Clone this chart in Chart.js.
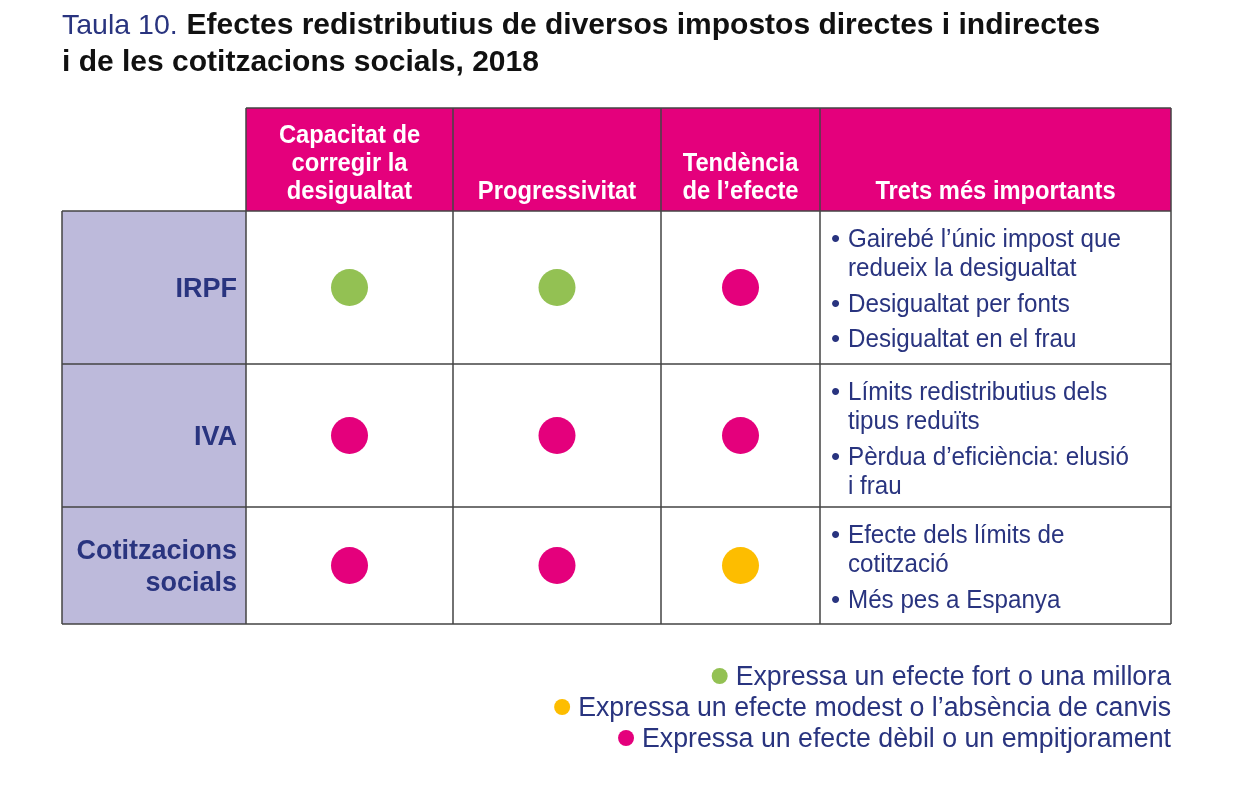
<!DOCTYPE html>
<html>
<head>
<meta charset="utf-8">
<script src="https://cdn.jsdelivr.net/npm/chart.js@4.4.1/dist/chart.umd.min.js"></script>
<style>
  html, body { margin: 0; padding: 0; background: #ffffff; }
  #wrap { width: 1238px; height: 787px; }
  canvas { display: block; }
</style>
</head>
<body>
<div id="wrap"><canvas id="c" width="1238" height="787"></canvas></div>
<script>
// ---------------- DATA ----------------
const titleLabel = 'Taula 10.';
const titleLines = ['Efectes redistributius de diversos impostos directes i indirectes',
                    'i de les cotitzacions socials, 2018'];
const rowLabels = [['IRPF'], ['IVA'], ['Cotitzacions', 'socials']];
const columnHeaders = [['Capacitat de', 'corregir la', 'desigualtat'],
                       ['Progressivitat'],
                       ['Tendència', 'de l\u2019efecte']];
const traitsHeader = ['Trets més importants'];
const traits = [
  [['Gairebé l\u2019únic impost que', 'redueix la desigualtat'], ['Desigualtat per fonts'], ['Desigualtat en el frau']],
  [['Límits redistributius dels', 'tipus reduïts'], ['Pèrdua d\u2019eficiència: elusió', 'i frau']],
  [['Efecte dels límits de', 'cotització'], ['Més pes a Espanya']]
];
// rating per row (IRPF, IVA, Cotitzacions socials) for each indicator column
const capacitat      = ['fort', 'dèbil', 'dèbil'];
const progressivitat = ['fort', 'dèbil', 'dèbil'];
const tendencia      = ['dèbil', 'dèbil', 'modest'];
const levels = ['fort', 'modest', 'dèbil'];
const levelLabels = ['Expressa un efecte fort o una millora',
                     'Expressa un efecte modest o l\u2019absència de canvis',
                     'Expressa un efecte dèbil o un empitjorament'];

// ---------------- STYLE / LAYOUT ----------------
const COL = { magenta: '#e4007c', lavender: '#bdbadb', blue: '#29347f', black: '#111111',
              grid: '#444444', levels: { 'fort': '#93c153', 'modest': '#fdbd00', 'dèbil': '#e4007c' } };
const FONT = '"Liberation Sans", Arial, Helvetica, sans-serif';
const L = {
  tableLeft: 62, labelW: 184, colW: [207, 208, 159], traitsW: 351,
  headerTop: 108, headerH: 103, rowH: [153, 143, 117]
};
const sum = a => a.reduce((s, v) => s + v, 0);
const cum = (a, i) => sum(a.slice(0, i));
const dataLeft = L.tableLeft + L.labelW;
const dataTop = L.headerTop + L.headerH;
const dataW = sum(L.colW);
const dataH = sum(L.rowH);

const columnsData = [capacitat, progressivitat, tendencia];
function pointsFor(level) {
  const pts = [];
  columnsData.forEach((col, ci) => col.forEach((v, ri) => {
    if (v === level) pts.push({ x: cum(L.colW, ci) + L.colW[ci] / 2, y: cum(L.rowH, ri) + L.rowH[ri] / 2 });
  }));
  return pts;
}

function txt(ctx, s, x, y, font, color, align, sx) {
  ctx.save();
  ctx.font = font; ctx.fillStyle = color; ctx.textAlign = align; ctx.textBaseline = 'alphabetic';
  ctx.translate(x, y); ctx.scale(sx || 1, 1);
  ctx.fillText(s, 0, 0);
  ctx.restore();
}
function width(ctx, s, font, sx) { ctx.save(); ctx.font = font; const w = ctx.measureText(s).width * (sx || 1); ctx.restore(); return w; }

const tablePlugin = {
  id: 'tablePlugin',
  beforeDraw(chart) {
    const ctx = chart.ctx;
    ctx.save();
    ctx.fillStyle = '#ffffff';
    ctx.fillRect(0, 0, chart.width, chart.height);
    ctx.restore();
  },
  beforeDatasetsDraw(chart) {
    const ctx = chart.ctx, xs = chart.scales.x, ys = chart.scales.y;
    const xB = [0]; L.colW.forEach((w, i) => xB.push(cum(L.colW, i + 1)));
    const yB = [0]; L.rowH.forEach((h, i) => yB.push(cum(L.rowH, i + 1)));
    const xPix = xB.map(v => xs.getPixelForValue(v));
    const yPix = yB.map(v => ys.getPixelForValue(v));
    const left = xPix[0] - L.labelW, right = xPix[xPix.length - 1] + L.traitsW;
    const top = yPix[0] - L.headerH, bottom = yPix[yPix.length - 1];
    ctx.save();
    // header
    ctx.fillStyle = COL.magenta;
    ctx.fillRect(xPix[0], top, right - xPix[0], yPix[0] - top);
    // label column
    ctx.fillStyle = COL.lavender;
    ctx.fillRect(left, yPix[0], L.labelW, bottom - yPix[0]);
    // grid
    ctx.strokeStyle = COL.grid; ctx.lineWidth = 1.5;
    ctx.beginPath();
    const vx = xPix.concat([right]);
    vx.forEach(x => { ctx.moveTo(x, top); ctx.lineTo(x, bottom); });
    ctx.moveTo(left, yPix[0]); ctx.lineTo(left, bottom);
    ctx.moveTo(xPix[0], top); ctx.lineTo(right, top);
    yPix.forEach(y => { ctx.moveTo(left, y); ctx.lineTo(right, y); });
    ctx.stroke();
    ctx.restore();

    // header text
    const hFont = 'bold 25px ' + FONT, hs = 0.95, hBase = yPix[0] - 12, hLine = 28;
    const headerCells = columnHeaders.concat([traitsHeader]);
    const cellLeft = xPix.slice();
    const cellW = L.colW.concat([L.traitsW]);
    headerCells.forEach((lines, i) => {
      const cx = cellLeft[i] + cellW[i] / 2;
      lines.forEach((s, k) => {
        txt(ctx, s, cx, hBase - (lines.length - 1 - k) * hLine, hFont, '#ffffff', 'center', hs);
      });
    });

    // row labels
    const rFont = 'bold 27px ' + FONT, rLine = 32;
    rowLabels.forEach((lines, ri) => {
      const cy = ys.getPixelForValue(cum(L.rowH, ri) + L.rowH[ri] / 2);
      const n = lines.length;
      lines.forEach((s, k) => {
        const y = cy + (k - (n - 1) / 2) * rLine + 9.5;
        txt(ctx, s, xPix[0] - 9, y, rFont, COL.blue, 'right', 1);
      });
    });

    // traits
    const tFont = '26px ' + FONT, ts = 0.93, tLine = 29, tGap = 35.5;
    const tx = xPix[xPix.length - 1];
    traits.forEach((bullets, ri) => {
      let y = yPix[ri] + 36;
      bullets.forEach((lines, bi) => {
        if (bi > 0) y += tGap - tLine;
        lines.forEach((s, k) => {
          if (k === 0) txt(ctx, '\u2022', tx + 11, y, tFont, COL.blue, 'left', 1);
          txt(ctx, s, tx + 28, y, tFont, COL.blue, 'left', ts);
          y += tLine;
        });
      });
    });
  },
  afterDraw(chart) {
    const ctx = chart.ctx;
    // title
    const tRegular = '28.5px ' + FONT, tBold = 'bold 30px ' + FONT, tsx = 1.0;
    const x0 = L.tableLeft;
    txt(ctx, titleLabel, x0, 34, tRegular, COL.blue, 'left', 1);
    const wLab = width(ctx, titleLabel + ' ', tRegular, 1);
    txt(ctx, titleLines[0], x0 + wLab + 1, 34, tBold, COL.black, 'left', tsx);
    txt(ctx, titleLines[1], x0, 71, tBold, COL.black, 'left', tsx);

    // legend
    const lFont = '27px ' + FONT, ls = 0.99;
    const right = L.tableLeft + L.labelW + sum(L.colW) + L.traitsW;
    chart.data.datasets.forEach((ds, i) => {
      const base = 685 + i * 31;
      const w = width(ctx, ds.label, lFont, ls);
      txt(ctx, ds.label, right, base, lFont, COL.blue, 'right', ls);
      ctx.save();
      ctx.fillStyle = ds.backgroundColor;
      ctx.beginPath();
      ctx.arc(right - w - 16, base - 9, 8, 0, Math.PI * 2);
      ctx.fill();
      ctx.restore();
    });
  }
};

new Chart(document.getElementById('c'), {
  type: 'scatter',
  data: {
    datasets: levels.map((lv, i) => ({
      label: levelLabels[i],
      data: pointsFor(lv),
      backgroundColor: COL.levels[lv],
      borderWidth: 0,
      pointRadius: 18.5,
      pointHoverRadius: 18.5
    }))
  },
  options: {
    responsive: false,
    animation: false,
    events: [],
    layout: { padding: { left: dataLeft, top: dataTop, right: 1238 - dataLeft - dataW, bottom: 787 - dataTop - dataH } },
    scales: {
      x: { type: 'linear', min: 0, max: dataW, display: false },
      y: { type: 'linear', min: 0, max: dataH, reverse: true, display: false }
    },
    plugins: { legend: { display: false }, tooltip: { enabled: false }, title: { display: false } }
  },
  plugins: [tablePlugin]
});
</script>
</body>
</html>
